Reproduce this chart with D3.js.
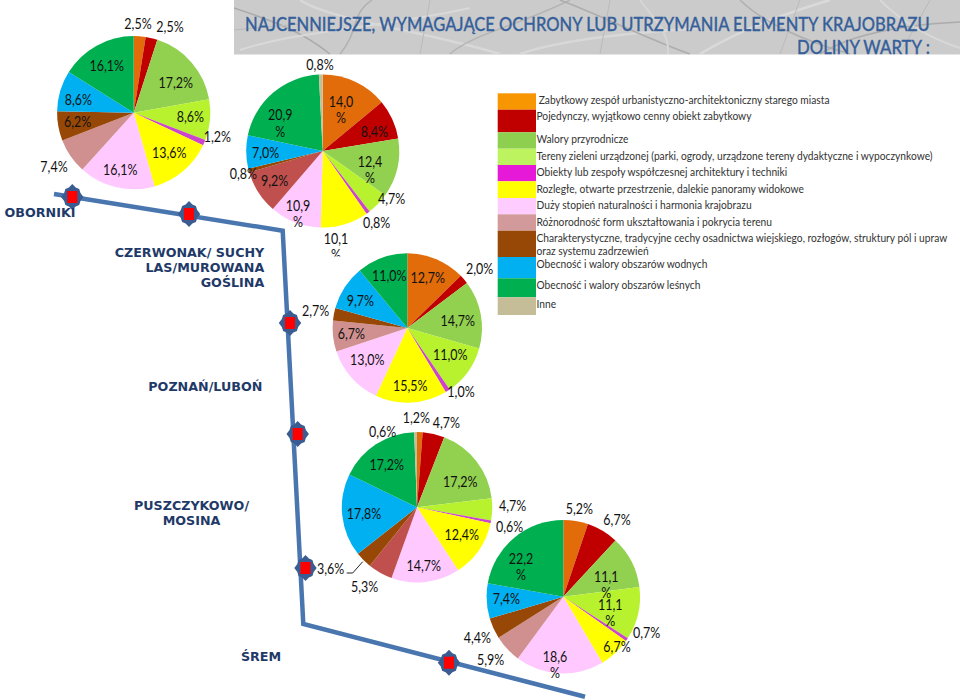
<!DOCTYPE html>
<html>
<head>
<meta charset="utf-8">
<script src="https://cdn.jsdelivr.net/npm/d3@7"></script>
<style>
  html, body { margin: 0; padding: 0; background: #fff; }
  svg { display: block; }
  text { font-family: Lato, "Open Sans", sans-serif; }
</style>
</head>
<body>
<div id="chart"></div>
<script>
const width = 960, height = 700;

// legend categories, same order as the slices
const categories = [
  "Zabytkowy zespół urbanistyczno-architektoniczny starego miasta",
  "Pojedynczy, wyjątkowo cenny obiekt zabytkowy",
  "Walory przyrodnicze",
  "Tereny zieleni urządzonej (parki, ogrody, urządzone tereny dydaktyczne i wypoczynkowe)",
  "Obiekty lub zespoły współczesnej architektury i techniki",
  "Rozległe, otwarte przestrzenie, dalekie panoramy widokowe",
  "Duży stopień naturalności i harmonia krajobrazu",
  "Różnorodność form ukształtowania i pokrycia terenu",
  "Charakterystyczne, tradycyjne cechy osadnictwa wiejskiego, rozłogów, struktury pól i upraw oraz systemu zadrzewień",
  "Obecność i walory obszarów wodnych",
  "Obecność i walory obszarów leśnych",
  "Inne"
];

// percentages per pie
const oborniki  = [2.5, 2.5, 17.2, 8.6, 1.2, 13.6, 16.1, 7.4, 6.2, 8.6, 16.1, 0];
const czerwonak = [14.0, 8.4, 12.4, 4.7, 0.8, 10.1, 10.9, 9.2, 0.8, 7.0, 20.9, 0.8];
const poznan    = [12.7, 2.0, 14.7, 11.0, 1.0, 15.5, 13.0, 6.7, 2.7, 9.7, 11.0, 0];
const puszczyk  = [1.2, 4.7, 17.2, 4.7, 0.6, 12.4, 14.7, 5.3, 3.6, 17.8, 17.2, 0.6];
const srem      = [5.2, 6.7, 11.1, 11.1, 0.7, 6.7, 18.6, 5.9, 4.4, 7.4, 22.2, 0];

const legendColors = ["#f79600", "#c00000", "#8fcf50", "#bdf35f", "#e619d8", "#ffff00",
  "#ffccff", "#d29a9a", "#984806", "#00b0f0", "#00b050", "#c4bd97"];
const pieColors = ["#e36c0a", "#c00000", "#92d050", "#b8f22e", "#cc44cc", "#ffff00",
  "#ffc9ff", "#d09090", "#984806", "#00b0f0", "#00b050", "#c4bd97"];
const pieColorsDark = pieColors.map((c, i) => i == 7 ? "#c0504d" : c);

// where each pie sits and where its labels go (x, y, wrapped onto 2 lines)
const pies = [
  {values: oborniki, cx: 133.7, cy: 112.7, r: 76.6, colors: pieColors, labels: [
    [138,24],[170,26.5],[175.7,82.7],[190.3,117.3],[217.3,136.7],[169.3,153.3],
    [120.3,170],[54,167],[77.7,121.7],[78.3,100.3],[106.7,66.3]]},
  {values: czerwonak, cx: 322.7, cy: 151, r: 76.5, colors: pieColorsDark, labels: [
    [341,102,1],[374.3,131.7],[370,161.7,1],[391.7,198.7],[376.7,222.7],[336,238.7,1],
    [298,205.7,1],[274.7,181],[243.3,174],[265.7,153],[280.3,115.3,1],[320,64.7]]},
  {values: poznan, cx: 407.3, cy: 328, r: 74.7, colors: pieColors, labels: [
    [427.7,278.3],[479.7,269],[457.7,321.3],[450.3,355.3],[461,391.7],[410.3,386.3],
    [367.3,360.3],[351.3,334.3],[315.7,311],[360.3,301],[389.3,276]]},
  {values: puszczyk, cx: 417, cy: 507.3, r: 75.2, colors: pieColorsDark, labels: [
    [416.3,418.3],[446.3,423.3],[460.3,481.7],[512.7,506.3],[509.7,527],[461.7,535],
    [423.7,565.7],[364.7,586.7],[330.7,568.7],[364,513.7],[386.7,465.3],[382.7,432]]},
  {values: srem, cx: 563.3, cy: 596.7, r: 76.7, colors: pieColors, labels: [
    [579.3,509],[617,520],[606.3,576.7,1],[610.3,605,1],[646.7,632.7],[617,647],
    [555,656.7,1],[490.7,659.7],[477.3,638.3],[506.3,598.7],[521,559,1]]}
];

const svg = d3.select("#chart").append("svg")
  .attr("width", width)
  .attr("height", height);

// Lato is wider than the original font, so squeeze text sideways
function squeezed(parent, x, y, k) {
  return parent.append("text")
    .attr("transform", `translate(${x},${y}) scale(${k},1)`);
}
// same, but squeeze to an exact width
function fitWidth(t, x, y, w) {
  const k = w / t.node().getComputedTextLength();
  t.attr("transform", `translate(${x},${y}) scale(${k},1)`);
}

// header banner, grey street map look
const banner = svg.append("g");
banner.append("rect")
  .attr("x", 234).attr("y", 0)
  .attr("width", 726).attr("height", 54.5)
  .attr("fill", "#cbcbcb");
const clip = svg.append("clipPath").attr("id", "bannerClip");
clip.append("rect").attr("x", 234).attr("y", 0).attr("width", 726).attr("height", 54.5);
const streets = banner.append("g").attr("clip-path", "url(#bannerClip)").attr("fill", "none");
[
  ["M234,8 C270,20 300,30 330,54", "#ababab", 1.5],
  ["M240,50 C300,30 380,28 470,8", "#d9d9d9", 2],
  ["M300,0 C330,20 420,30 500,54", "#d8d8d8", 2.5],
  ["M340,54 C360,30 350,15 372,0", "#b0b0b0", 1.5],
  ["M450,54 C470,35 520,25 570,0", "#b4b4b4", 1.5],
  ["M520,54 C560,40 620,34 700,28", "#d8d8d8", 2.5],
  ["M560,0 C600,15 650,40 690,54", "#adadad", 1.5],
  ["M640,0 C650,15 670,30 668,54", "#d6d6d6", 2],
  ["M700,54 C740,30 780,15 830,0", "#dadada", 2.5],
  ["M740,0 C760,20 800,40 850,54", "#afafaf", 1.5],
  ["M820,54 C850,35 900,25 960,22", "#acacac", 1.5],
  ["M880,0 C895,15 920,35 960,48", "#d8d8d8", 2],
  ["M234,30 L300,24 M420,54 L430,0 M600,54 L610,0 M780,54 L800,0 M900,54 L930,0", "#bababa", 1]
].forEach(s => {
  streets.append("path").attr("d", s[0]).attr("stroke", s[1]).attr("stroke-width", s[2]);
});

const title1 = banner.append("text")
  .attr("font-size", 20).attr("font-weight", 500).attr("fill", "#36609a")
  .attr("stroke", "#36609a").attr("stroke-width", 0.3)
  .text("NAJCENNIEJSZE, WYMAGAJĄCE OCHRONY LUB UTRZYMANIA ELEMENTY KRAJOBRAZU");
fitWidth(title1, 245, 31, 685);
const title2 = banner.append("text")
  .attr("font-size", 20).attr("font-weight", 500).attr("fill", "#36609a")
  .attr("stroke", "#36609a").attr("stroke-width", 0.3)
  .text("DOLINY WARTY :");
fitWidth(title2, 797, 54, 133);

// route line
const route = [[54,194],[282.7,230.7],[303.3,624],[585,696.7]];
svg.append("path")
  .attr("d", d3.line()(route))
  .attr("fill", "none")
  .attr("stroke", "#4a76b0")
  .attr("stroke-width", 4.5)
  .attr("stroke-linejoin", "miter");

// stations
const stations = [[72.3,197],[189,214],[290,323],[297.7,434],[305.5,568],[449,662.7]];
const starRadius = [11.8, 9.3, 10.3, 9.3];
const star = d3.lineRadial()
  .angle((d, i) => i * Math.PI / 8)
  .radius((d, i) => starRadius[i % 4])
  .curve(d3.curveLinearClosed);
const station = svg.selectAll(".station").data(stations).join("g")
  .attr("class", "station")
  .attr("transform", d => `translate(${d[0]},${d[1]})`);
station.append("path")
  .attr("d", star(d3.range(16)))
  .attr("transform", "scale(0.95,1.1)")
  .attr("fill", "#3b5c90");
station.append("rect")
  .attr("x", -5).attr("y", -6)
  .attr("width", 10).attr("height", 12)
  .attr("fill", "#ff0000");

// the pies
const pie = d3.pie().sort(null).value(d => d);
const arc = d3.arc().innerRadius(0);
const fmt = v => v.toFixed(1).replace(".", ",") + "%";

pies.forEach(p => {
  const g = svg.append("g").attr("transform", `translate(${p.cx},${p.cy})`);
  g.selectAll("path")
    .data(pie(p.values))
    .join("path")
      .attr("d", d => arc.outerRadius(p.r)(d))
      .attr("fill", (d, i) => p.colors[i]);
});

// labels, zero slices have none
const labelSize = 14.5;
const labelSqueeze = 0.86;
pies.forEach(p => {
  const shown = p.values.filter(v => v > 0);
  shown.forEach((v, i) => {
    const pos = p.labels[i];
    const t = squeezed(svg, pos[0], pos[1] + 5, labelSqueeze)
      .attr("text-anchor", "middle")
      .attr("font-size", labelSize)
      .attr("fill", "#111");
    if (pos[2]) {
      const parts = fmt(v);
      t.append("tspan").attr("x", 0).attr("y", 0).text(parts.slice(0, -1));
      t.append("tspan").attr("x", 0).attr("y", 16.5).text("%");
    } else {
      t.text(fmt(v));
    }
  });
});

// the "10,1 %" label is cut off by the next chart's frame in the original
svg.append("rect")
  .attr("x", 325).attr("y", 256.5)
  .attr("width", 24).attr("height", 8)
  .attr("fill", "#fff");

// leader line for the 3,6% label
svg.append("path")
  .attr("d", d3.line()([[346.7,573],[352.7,573],[362.7,561.7]]))
  .attr("fill", "none")
  .attr("stroke", "#222")
  .attr("stroke-width", 1);

// legend
const swatchY = [93.3,109.7,132.3,148.7,165,181.3,198,214.3,230.7,257,278.3,297.3,315];
const legendTextY = [100,116,139,155.5,172,188.5,205,221.5,237.5,264,285,304];
const legendSqueeze = 0.89;
categories.forEach((c, i) => {
  svg.append("rect")
    .attr("x", 497.7).attr("y", swatchY[i])
    .attr("width", 38.3).attr("height", swatchY[i + 1] - swatchY[i])
    .attr("fill", legendColors[i]);
  const x = i == 0 ? 538.7 : 536.5;
  if (i == 8) {
    const cut = c.indexOf(" oraz");
    [c.slice(0, cut), c.slice(cut + 1)].forEach((line, j) => {
      squeezed(svg, x, legendTextY[i] + 4 + j * 13.5, legendSqueeze)
        .attr("font-size", 11.5).attr("fill", "#333").text(line);
    });
  } else {
    squeezed(svg, x, legendTextY[i] + 4, legendSqueeze)
      .attr("font-size", 11.5).attr("fill", "#333").text(c);
  }
});

// place names
const places = [
  {lines: ["OBORNIKI"], x: 40, y: 212.7, anchor: "middle"},
  {lines: ["CZERWONAK/ SUCHY", "LAS/MUROWANA", "GOŚLINA"], x: 264.3, y: 252, anchor: "end"},
  {lines: ["POZNAŃ/LUBOŃ"], x: 262.3, y: 386.7, anchor: "end"},
  {lines: ["PUSZCZYKOWO/", "MOSINA"], x: 191.5, y: 505.7, anchor: "middle"},
  {lines: ["ŚREM"], x: 261, y: 656, anchor: "middle"}
];
places.forEach(p => {
  p.lines.forEach((l, i) => {
    svg.append("text")
      .attr("x", p.x)
      .attr("y", p.y + i * 15 + 4.5)
      .attr("text-anchor", p.anchor)
      .style("font-family", "'DejaVu Sans'")
      .attr("font-weight", "bold")
      .attr("font-size", 12.7)
      .attr("fill", "#1f3a68")
      .text(l);
  });
});
</script>
</body>
</html>
